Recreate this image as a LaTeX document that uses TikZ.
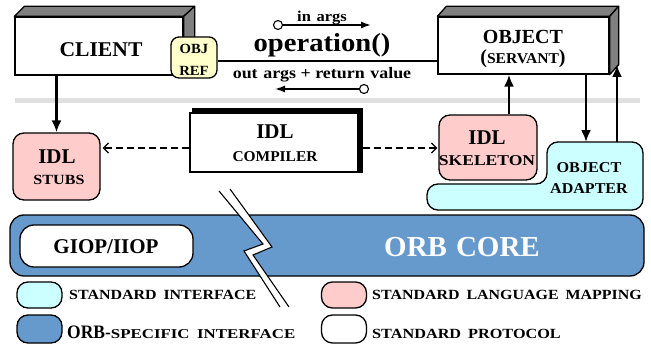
\documentclass[tikz,border=0pt]{standalone}
\usepackage{fontspec}
\setmainfont{Liberation Serif}
\usetikzlibrary{arrows.meta}
\newcommand{\myfs}[1]{\fontsize{#1}{#1}\selectfont\bfseries}
\newcommand{\stretchx}[2]{\scalebox{#1}[1]{#2}}
\definecolor{cyanfill}{HTML}{CCFFFF}
\definecolor{pinkfill}{HTML}{FFCCCC}
\definecolor{bluefill}{HTML}{6699CC}
\definecolor{yellowfill}{HTML}{FFFFCC}
\definecolor{divider}{HTML}{E0E0E0}
\tikzset{
  box/.style={draw, line width=1.3pt, inner sep=0pt, fill=white},
  rbox/.style={box, rounded corners=11pt},
  face/.style={draw, line width=1.3pt, fill=black!50, line join=round},
  lbl/.style={inner sep=0pt, text=black},
  arr/.style={line width=2.2pt, -{Latex[length=12pt,width=10pt]}},
  thinarr/.style={line width=1.4pt, -{Latex[length=10pt,width=7pt]}},
  dasharr/.style={line width=1.3pt, dash pattern=on 7pt off 4pt, -{Straight Barb[length=5pt,width=10pt]}},
  port/.style={circle, draw, line width=1.1pt, fill=white, minimum size=9pt, inner sep=0pt},
  legblob/.style={draw, line width=1.3pt, rounded corners=11pt, minimum width=45pt, minimum height=26pt, inner sep=0pt},
}
\begin{document}
\begin{tikzpicture}[x=1pt,y=-1pt]
\useasboundingbox (0,0) rectangle (651,345);

% divider
\draw[divider, line width=5pt] (15,101) -- (640,101);

% CLIENT
\node[box, minimum width=168pt, minimum height=58pt] (client) at (99,46) {};
\draw[face] (client.north west) -- ([shift={(10,-10)}]client.north west) -- ([shift={(11,-10)}]client.north east) -- (client.north east) -- cycle;
\draw[face] (client.north east) -- ([shift={(11,-10)}]client.north east) -- ([shift={(11,-11)}]client.south east) -- (client.south east) -- cycle;
\node[lbl] (clientlbl) at (101,50) {\myfs{21}\stretchx{1.03}{CLIENT}};

% OBJECT
\node[box, minimum width=171pt, minimum height=57pt] (object) at (523.5,45.5) {};
\draw[face] (object.north west) -- ([shift={(9,-10)}]object.north west) -- ([shift={(9,-10)}]object.north east) -- (object.north east) -- cycle;
\draw[face] (object.north east) -- ([shift={(9,-10)}]object.north east) -- ([shift={(9,-10)}]object.south east) -- (object.south east) -- cycle;
\node[lbl] (objectlbl) at (523,37) {\myfs{20}OBJECT};
\node[lbl, anchor=base] (servantlbl) at (523,64) {\myfs{20}(\fontsize{15}{15}\selectfont\stretchx{1.04}{SERVANT}\fontsize{20}{20}\selectfont)};

% OBJ REF
\node[rbox, rounded corners=8pt, fill=yellowfill, minimum width=46pt, minimum height=41pt] (objref) at (194,57.5) {};
\node[lbl] (objlbl) at (194,49) {\myfs{14}\stretchx{1.05}{OBJ}};
\node[lbl] (reflbl) at (194,71) {\myfs{14}\stretchx{1.05}{REF}};

% request line
\draw[line width=1.1pt] ([yshift=-3.5pt]objref.east) -- ([yshift=-3.5pt]objref.east -| object.west);

% operation labels
\node[lbl, anchor=base] (inargs) at (322,22) {\myfs{15}\stretchx{1.1}{in\hspace{5pt}args}};
\node[lbl, anchor=base] (operation) at (322,52) {\myfs{26}\stretchx{1.1}{operation()}};
\node[lbl, anchor=base] (outargs) at (322,78) {\myfs{16}\stretchx{1.12}{out\hspace{5pt}args + return\hspace{5pt}value}};
\node[port] (inport) at (278,25) {};
\coordinate (inend) at (371,25);
\draw[thinarr] (inport) -- (inend);
\node[port] (outport) at (364,89) {};
\coordinate (outend) at (275,89);
\draw[thinarr] (outport) -- (outend);

% IDL STUBS
\node[rbox, fill=pinkfill, minimum width=87pt, minimum height=67pt] (stubs) at (56.5,166.5) {};
\node[lbl] (stubsidl) at (57,157) {\myfs{21}IDL};
\node[lbl] (stubslbl) at (59,180) {\myfs{14}\stretchx{1.15}{STUBS}};

% IDL COMPILER
\node[box, minimum width=168pt, minimum height=59pt] (compiler) at (274,142.5) {};
\draw[line width=4.5pt, line join=miter] ([xshift=3pt,yshift=2pt]compiler.north west) -- ([xshift=2pt,yshift=2pt]compiler.north east) -- ([xshift=2pt]compiler.south east);
\node[lbl] (compidl) at (275,132) {\myfs{21}IDL};
\node[lbl] (complbl) at (275,157) {\myfs{15}\stretchx{1.03}{COMPILER}};

% IDL SKELETON
\node[rbox, fill=pinkfill, minimum width=98pt, minimum height=65pt] (skeleton) at (488,147.5) {};
\node[lbl] (skelidl) at (487,138) {\myfs{21}IDL};
\node[lbl] (skellbl) at (487,161) {\myfs{15}\stretchx{1.17}{SKELETON}};

% OBJECT ADAPTER
\draw[line width=1.3pt, fill=cyanfill, rounded corners=11pt] (427,210) -- (427,184) -- (547,184) -- (547,142) -- (643,142) -- (643,210) -- cycle;
\node[lbl] (adapter1) at (589,168) {\myfs{15}\stretchx{1.08}{OBJECT}};
\node[lbl] (adapter2) at (589,189) {\myfs{15}\stretchx{1.07}{ADAPTER}};
\coordinate (adIn) at (586,142);
\coordinate (adOut) at (617,142);
\coordinate (objFace) at (617,65);

% arrows
\draw[arr] (client.south -| stubs.north) -- (stubs.north);
\draw[arr] ([xshift=21pt]skeleton.north) -- ([xshift=21pt]skeleton.north |- object.south);
\draw[arr] (adIn |- object.south) -- (adIn);
\draw[arr] (adOut) -- (objFace);
\coordinate (dashL) at ([yshift=-5.5pt]compiler.west);
\draw[dasharr] (dashL) -- ([xshift=2pt]dashL -| stubs.east);
\coordinate (dashR) at ([xshift=4pt,yshift=-5.5pt]compiler.east);
\draw[dasharr] (dashR) -- ([xshift=-1pt]dashR -| skeleton.west);

% ORB CORE
\node[draw, line width=1.3pt, fill=bluefill, rounded corners=14pt, minimum width=634pt, minimum height=61pt, inner sep=0pt] (orbcore) at (327,245.5) {};
\node[rbox, rounded corners=14pt, minimum width=173pt, minimum height=42pt] (giop) at (106.5,246) {};
\node[lbl] (gioplbl) at (106,247) {\myfs{21}GIOP/IIOP};
\node[lbl, text=white] (orbcorelbl) at (462,247) {\myfs{29}ORB\hspace{9pt}CORE};

% lightning band
\fill[white] (219,191) -- (263,244) -- (244,251) -- (280,307) -- (289,307) -- (253,255) -- (272,247) -- (230,189) -- cycle;
\draw[line width=1.1pt, line join=miter] (219,191) -- (263,244) -- (244,251) -- (280,307);
\draw[line width=1.1pt, line join=miter] (230,189) -- (272,247) -- (253,255) -- (289,307);

% legend
\node[legblob, fill=cyanfill] (legstd) at (39.5,295) {};
\node[legblob, fill=pinkfill] (leglang) at (344,295) {};
\node[legblob, fill=bluefill, minimum height=28pt] (legorb) at (39.5,329) {};
\node[legblob, fill=white, minimum height=28pt] (legproto) at (344,329) {};
\node[lbl, anchor=base west] (legstdlbl) at (69,299) {\myfs{14}\stretchx{1.14}{STANDARD\hspace{6pt}INTERFACE}};
\node[lbl, anchor=base west] (leglanglbl) at (372,299) {\myfs{14}\stretchx{1.14}{STANDARD\hspace{6pt}LANGUAGE\hspace{6pt}MAPPING}};
\node[lbl, anchor=base west] (legorblbl) at (67,338) {\myfs{19}\stretchx{0.92}{ORB-}\fontsize{13.5}{13.5}\selectfont\stretchx{1.25}{SPECIFIC\hspace{6pt}INTERFACE}};
\node[lbl, anchor=base west] (legprotolbl) at (372,338) {\myfs{14}\stretchx{1.16}{STANDARD\hspace{6pt}PROTOCOL}};
\end{tikzpicture}
\end{document}
